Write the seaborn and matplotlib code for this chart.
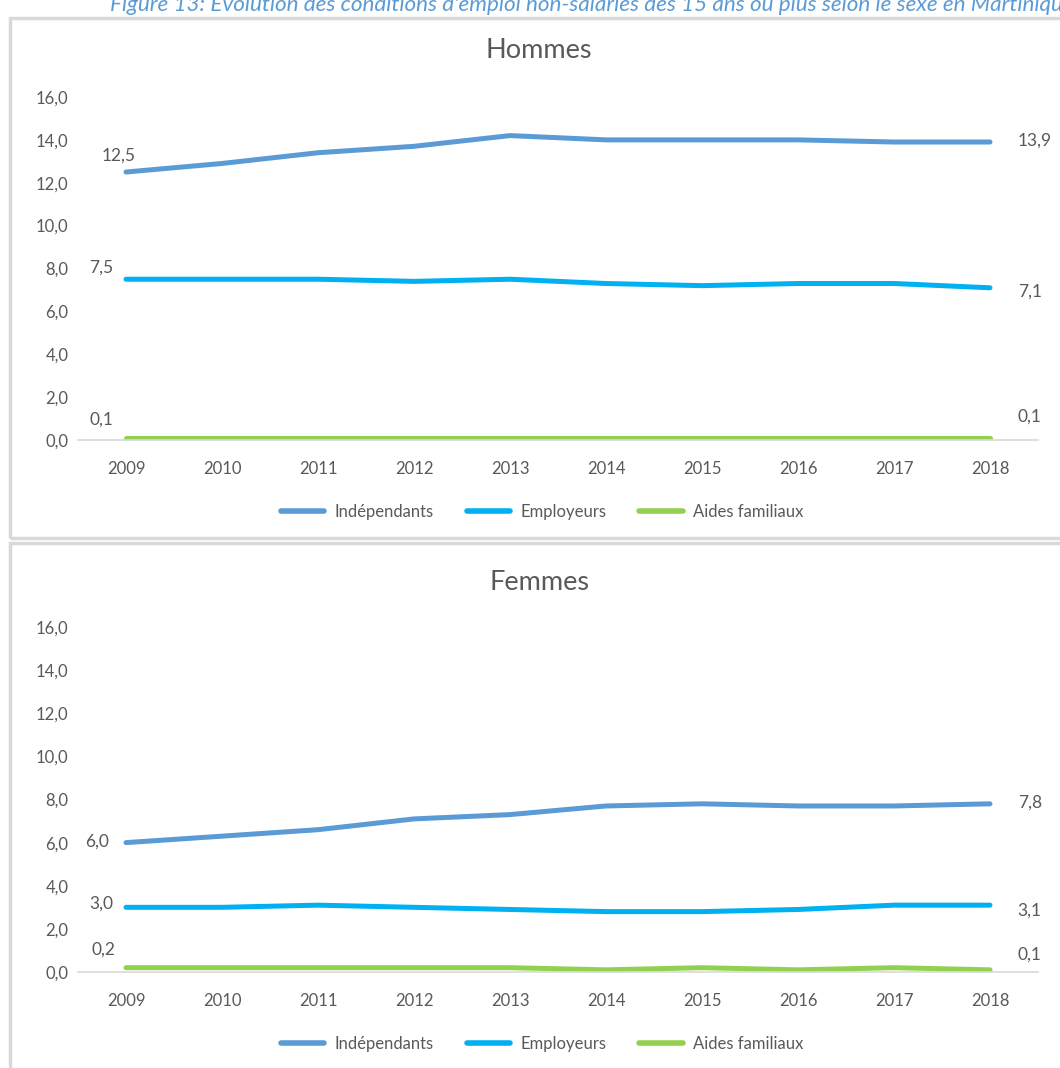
import numpy as np
import pandas as pd
import seaborn as sns
import matplotlib.pyplot as plt
from matplotlib.patches import Rectangle
from matplotlib.lines import Line2D

# données
annees = [2009, 2010, 2011, 2012, 2013, 2014, 2015, 2016, 2017, 2018]
series = ["Indépendants", "Employeurs", "Aides familiaux"]

hommes_independants = [12.5, 12.9, 13.4, 13.7, 14.2, 14.0, 14.0, 14.0, 13.9, 13.9]
hommes_employeurs = [7.5, 7.5, 7.5, 7.4, 7.5, 7.3, 7.2, 7.3, 7.3, 7.1]
hommes_aides = [0.1, 0.1, 0.1, 0.1, 0.1, 0.1, 0.1, 0.1, 0.1, 0.1]

femmes_independants = [6.0, 6.3, 6.6, 7.1, 7.3, 7.7, 7.8, 7.7, 7.7, 7.8]
femmes_employeurs = [3.0, 3.0, 3.1, 3.0, 2.9, 2.8, 2.8, 2.9, 3.1, 3.1]
femmes_aides = [0.2, 0.2, 0.2, 0.2, 0.2, 0.1, 0.2, 0.1, 0.2, 0.1]

yticks = np.arange(0, 17, 2)
couleurs = {"Indépendants": "#5B9BD5", "Employeurs": "#00B0F0", "Aides familiaux": "#92D050"}

sns.set_theme(style="white")
plt.rcParams['font.family'] = ['Lato', 'DejaVu Sans']
GRIS = "#595959"


def to_long(vals):
    frames = []
    for nom, v in zip(series, vals):
        frames.append(pd.DataFrame({"annee": range(len(annees)), "valeur": v, "serie": nom}))
    return pd.concat(frames, ignore_index=True)


def fmt(v):
    return f"{v:.1f}".replace(".", ",")


W, H = 1060, 1068
fig = plt.figure(figsize=(W / 100, H / 100), dpi=100)

# cadres gris des deux graphiques
for (y0, y1) in [(18, 538), (543, 1075)]:
    fig.patches.append(Rectangle((10 / W, 1 - y1 / H), 1.2, (y1 - y0) / H,
                                 transform=fig.transFigure, fill=False,
                                 edgecolor="#D9D9D9", linewidth=2.5))

# légende de la figure, coupée en haut et à droite comme sur l'original
fig.text(110 / W, 1 - 11 / H, "Figure 13: Évolution des conditions d'emploi non-salariés des 15 ans ou plus "
         "selon le sexe en Martinique", color="#5B9BD5", style="italic", fontsize=16.2,
         va="baseline", ha="left")

# décalages (points) des étiquettes : premier point (à gauche), dernier point (à droite)
panneaux = [
    ("Hommes", [hommes_independants, hommes_employeurs, hommes_aides], 440, 97, 50, 512,
     {"Indépendants": [(7, 12), (20, 1)], "Employeurs": [(-9, 8), (20, -3)],
      "Aides familiaux": [(-9, 13), (20, 15)]}),
    ("Femmes", [femmes_independants, femmes_employeurs, femmes_aides], 972, 627, 582, 1044,
     {"Indépendants": [(-12, 1), (20, 1)], "Employeurs": [(-9, 3), (20, -4)],
      "Aides familiaux": [(-8, 13), (20, 11)]}),
]

for titre, vals, ybas, yhaut, ytitre, ylegende, offsets in panneaux:
    ax = fig.add_axes([78 / W, 1 - ybas / H, 960 / W, (ybas - yhaut) / H])
    df = to_long(vals)
    sns.lineplot(data=df, x="annee", y="valeur", hue="serie", palette=couleurs,
                 linewidth=3.6, ax=ax, legend=False)
    ax.set_xlim(-0.5, len(annees) - 0.5)
    ax.set_ylim(0, 16)
    ax.set_yticks(yticks)
    ax.set_yticklabels([fmt(t) for t in yticks])
    ax.set_xticks(range(len(annees)))
    ax.set_xticklabels([str(a) for a in annees])
    ax.tick_params(axis="both", colors=GRIS, labelsize=12, length=0)
    ax.tick_params(axis="x", pad=15)
    ax.tick_params(axis="y", pad=7)
    ax.set_xlabel("")
    ax.set_ylabel("")
    for s in ["top", "right", "left"]:
        ax.spines[s].set_visible(False)
    ax.spines["bottom"].set_color("#D9D9D9")
    ax.spines["bottom"].set_linewidth(1.2)

    for nom, v in zip(series, vals):
        (dx0, dy0), (dx1, dy1) = offsets[nom]
        ax.annotate(fmt(v[0]), (0, v[0]), xytext=(dx0, dy0), textcoords="offset points",
                    ha="right", va="center", color=GRIS, fontsize=12.5)
        ax.annotate(fmt(v[-1]), (len(annees) - 1, v[-1]), xytext=(dx1, dy1),
                    textcoords="offset points", ha="left", va="center", color=GRIS, fontsize=12.5)

    fig.text(539 / W, 1 - ytitre / H, titre, ha="center", va="center", color=GRIS, fontsize=19.5)

    poignees = [Line2D([0], [0], color=couleurs[n], linewidth=4) for n in series]
    fig.legend(poignees, series, loc="center", bbox_to_anchor=(542 / W, 1 - ylegende / H),
               ncol=3, frameon=False, fontsize=12, handlelength=2.6, columnspacing=2.0,
               handletextpad=0.6, labelcolor=GRIS)

fig.savefig("out.png", dpi=100)
